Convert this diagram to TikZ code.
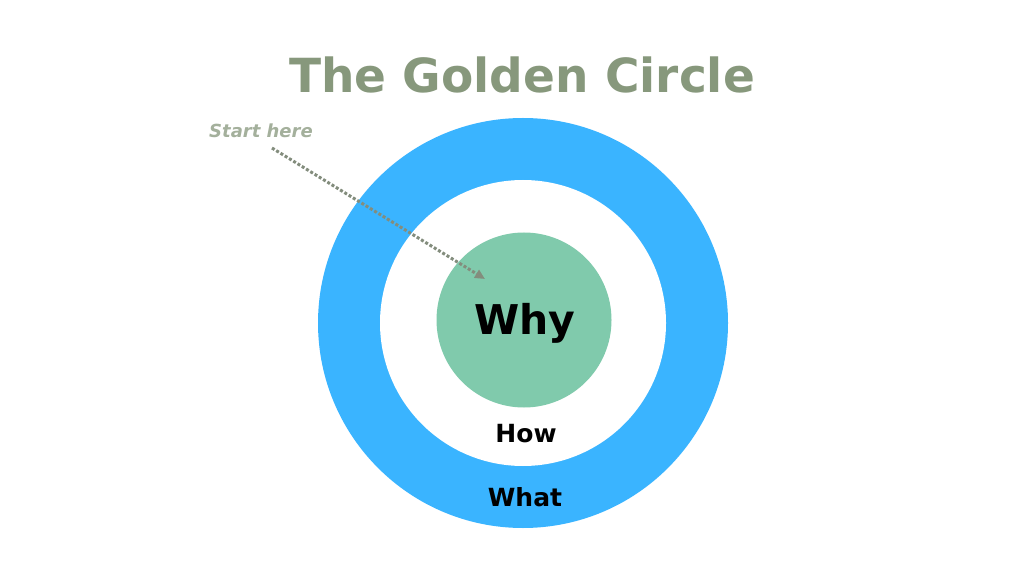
\documentclass[tikz,border=0pt]{standalone}
\usepackage{fontspec}
\setmainfont{DejaVu Sans}
\usetikzlibrary{arrows.meta}
\definecolor{titlec}{HTML}{87987C}
\definecolor{ringc}{HTML}{3AB4FF}
\definecolor{whyc}{HTML}{80CAAC}
\definecolor{startc}{HTML}{A4B09C}
\begin{document}
\begin{tikzpicture}[x=1pt,y=1pt,
  lbl/.style={font=\bfseries, text=black}]
\useasboundingbox (0,0) rectangle (1024,576);
\fill[white] (0,0) rectangle (1024,576);
\node[circle, fill=ringc, minimum size=410, inner sep=0] (what) at (523,253) {};
\node[circle, fill=white, minimum size=286, inner sep=0] (how) at (523,253) {};
\node[circle, fill=whyc, minimum size=175, inner sep=0] (why) at (524,256) {};
\node[lbl, font=\bfseries\fontsize{41}{41}\selectfont] (whyt) at (525,253) {Why};
\node[lbl, font=\bfseries\fontsize{25}{25}\selectfont] (howt) at (526,142) {How};
\node[lbl, font=\bfseries\fontsize{25}{25}\selectfont] (whatt) at (525,79) {What};
\node[text=titlec, font=\bfseries\fontsize{47}{47}\selectfont] (title) at (522,501) {The Golden Circle};
\node[text=startc, font=\bfseries\itshape\fontsize{18}{18}\selectfont] (start) at (261,445) {Start here};
\coordinate (tip) at (485,297);
\draw[startc!80!black, line width=3pt, dotted, -{Triangle[length=10pt,width=9pt]}] (272,428) -- (tip);
\end{tikzpicture}
\end{document}
